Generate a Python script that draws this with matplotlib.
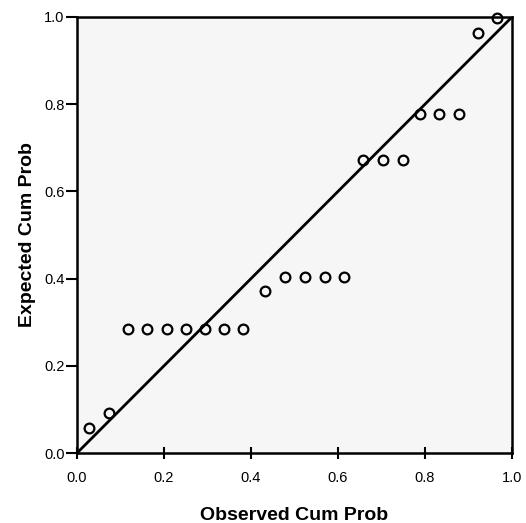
import matplotlib
matplotlib.use("Agg")
import matplotlib.pyplot as plt

# P-P plot points
observed = [0.028, 0.074, 0.117, 0.161, 0.207, 0.251, 0.294, 0.338, 0.382,
            0.432, 0.478, 0.524, 0.570, 0.614, 0.657, 0.703, 0.749,
            0.789, 0.832, 0.878, 0.922, 0.966]
expected = [0.057, 0.092, 0.284, 0.284, 0.284, 0.284, 0.284, 0.284, 0.284,
            0.372, 0.404, 0.404, 0.404, 0.404, 0.672, 0.672, 0.672,
            0.778, 0.778, 0.778, 0.963, 0.998]
ticks = [0.0, 0.2, 0.4, 0.6, 0.8, 1.0]
tick_labels = ["0.0", "0.2", "0.4", "0.6", "0.8", "1.0"]

plt.rcParams["font.family"] = ["Liberation Sans", "DejaVu Sans"]
plt.rcParams["hatch.color"] = "#808080"
plt.rcParams["hatch.linewidth"] = 0.8

fig = plt.figure(figsize=(5.26, 5.23), dpi=100)
ax = fig.add_axes([0.1464, 0.1338, 0.827, 0.8337])
ax.set_facecolor("#f6f6f6")
ax.patch.set_hatch("..")

ax.plot([0, 1], [0, 1], color="black", lw=2, zorder=2)
ax.plot(observed, expected, "o", ms=7, mfc="none", mec="black", mew=1.6, zorder=3, clip_on=False)

ax.set_xlim(0, 1)
ax.set_ylim(0, 1)
ax.set_xticks(ticks)
ax.set_xticklabels(tick_labels)
ax.set_yticks(ticks)
ax.set_yticklabels(tick_labels)
ax.tick_params(axis="x", direction="inout", length=8, width=1.5, labelsize=10.5, pad=9)
ax.tick_params(axis="y", direction="out", length=8, width=1.5, labelsize=10.5, pad=1)
for s in ax.spines.values():
    s.set_linewidth(1.8)

ax.set_xlabel("Observed Cum Prob", fontsize=14, fontweight="bold", labelpad=16)
ax.set_ylabel("Expected Cum Prob", fontsize=14, fontweight="bold", labelpad=6)

fig.savefig("out.png", dpi=100)
